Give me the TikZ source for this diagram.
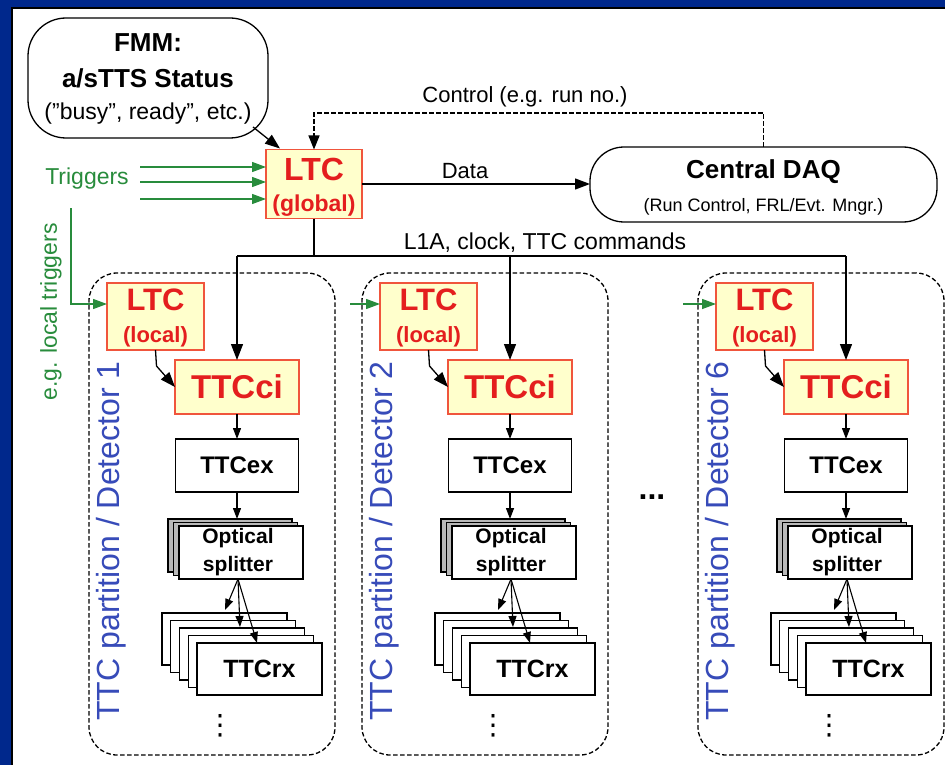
\documentclass[tikz,border=0pt]{standalone}
\usepackage{fontspec}
\setmainfont{Liberation Sans}
\newfontfamily\dejavu{DejaVu Sans}
\usetikzlibrary{arrows.meta,calc}
\definecolor{frameblue}{RGB}{0,40,140}
\definecolor{boxyellow}{RGB}{255,255,204}
\definecolor{boxred}{RGB}{240,85,60}
\definecolor{txtred}{RGB}{228,30,30}
\definecolor{trgreen}{RGB}{40,140,60}
\definecolor{partblue}{RGB}{55,75,185}
\newcommand{\myfs}[1]{\fontsize{#1}{#1}\selectfont}
\begin{document}
\begin{tikzpicture}[x=1pt,y=-1pt,
  every node/.style={inner sep=0pt, outer sep=0pt, align=center},
  ln/.style={line width=1.3pt, draw=black},
  arr/.style={ln, -{Triangle[length=15pt,width=11pt]}},
  sarr/.style={ln, -{Triangle[length=11pt,width=8pt]}},
  garr/.style={line width=1.3pt, draw=trgreen, -{Triangle[length=14pt,width=10pt]}},
  redbox/.style={draw=boxred, fill=boxyellow, line width=1.2pt, text=txtred},
  redtxt/.style={text=txtred, font=\bfseries},
  wbox/.style={draw=black, fill=white, line width=1.3pt},
  layer/.style={draw=black, line width=1.2pt},
  dsh/.style={line width=1.3pt, dash pattern=on 4.5pt off 2.5pt},
  part/.style={draw=black, dsh, rounded corners=28pt, minimum width=246pt, minimum height=482pt},
  ptxt/.style={text=partblue, font=\myfs{32}},
  lbl/.style={font=\myfs{22}}
]
\useasboundingbox (0,0) rectangle (945,765);
\fill[frameblue] (0,0) rectangle (945,765);
\fill[white] (13,9) rectangle (945,765);
\draw[line width=2pt] (12,765) -- (12,8) -- (945,8);

% FMM
\node[draw=black, line width=1.3pt, fill=white, rounded corners=38pt, minimum width=240pt, minimum height=120pt] (fmm) at (148,78) {};
\node[font=\bfseries\myfs{26}] (fmmA) at (148,43) {FMM:};
\node[font=\bfseries\myfs{26}] (fmmB) at (148,78) {a/sTTS Status};
\node[font=\myfs{23}] (fmmC) at (148,114) {("busy", ready", etc.)};

% LTC global
\node[redbox, minimum width=96pt, minimum height=69pt] (ltcg) at (314,184) {};
\node[redtxt, font=\bfseries\myfs{32}] (ltcgA) at (314,169) {LTC};
\node[redtxt, font=\bfseries\myfs{23}] (ltcgB) at (314,206) {(global)};

% Central DAQ
\node[draw=black, line width=1.3pt, fill=white, rounded corners=34pt, minimum width=347pt, minimum height=75pt] (daq) at (763.5,184.5) {};
\node[font=\bfseries\myfs{26}] (daqA) at (763.5,172) {Central DAQ};
\node[font=\myfs{18}] (daqB) at (763.5,207) {(Run Control, FRL/Evt. Mngr.)};

% top connectors
\draw[arr] ($(fmm.south east)+(-15,-11)$) -- ($(ltcg.north west)+(14,-1)$);
\draw[ln, dsh, -{Triangle[length=14pt,width=11pt]}] (daq.north) -- ++(0,-34) -| (ltcg.north);
\node[lbl] (ctrl) at (525,97) {Control (e.g. run no.)};
\draw[arr] (ltcg.east) -- (ltcg.east -| daq.west);
\node[lbl] (data) at (465,171) {Data};

% triggers
\node[font=\myfs{23}, text=trgreen] (trig) at (87,179) {Triggers};
\coordinate (tr1) at (140,167);
\coordinate (tr2) at (140,182);
\coordinate (tr3) at (140,199);
\draw[garr] (tr1) -- (tr1 -| ltcg.west);
\draw[garr] (tr2) -- (tr2 -| ltcg.west);
\draw[garr] (tr3) -- (tr3 -| ltcg.west);
\node[font=\myfs{23}, text=trgreen, rotate=90] (loctrig) at (51,312) {e.g. local triggers};

% bus
\coordinate (bus) at (314,256);
\draw[ln] (ltcg.south) -- (bus);
\node[font=\myfs{23}] (l1a) at (545,243) {L1A, clock, TTC commands};

\foreach \o/\n in {0/1,273/2,609/6}{
  \node[part] (part\n) at (212+\o,514) {};
  \node[redbox, minimum width=97pt, minimum height=67pt] (ltcl\n) at (155.5+\o,316.5) {};
  \node[redtxt, font=\bfseries\myfs{31}] (ltclA\n) at (155.5+\o,300) {LTC};
  \node[redtxt, font=\bfseries\myfs{22}] (ltclB\n) at (155.5+\o,337) {(local)};
  \node[redbox, minimum width=124pt, minimum height=54pt, font=\bfseries\myfs{33}] (ttcci\n) at (237+\o,387) {TTCci};
  \node[wbox, minimum width=123pt, minimum height=53pt, font=\bfseries\myfs{24}] (ttcex\n) at (237+\o,465.5) {TTCex};
  \foreach \k in {2,1}{
    \filldraw[layer, fill=gray!55] (179+\o-5.5*\k,526-3.5*\k) rectangle ++(124,53);
  }
  \node[wbox, minimum width=124pt, minimum height=53pt] (osp\n) at (241+\o,552.5) {};
  \node[font=\bfseries\myfs{21}] (ospA\n) at (238+\o,538) {Optical};
  \node[font=\bfseries\myfs{21}] (ospB\n) at (238+\o,566) {splitter};
  \foreach \k in {4,3,2,1}{
    \filldraw[layer, fill=white] (197+\o-8.75*\k,643-7.5*\k) rectangle ++(125,52);
  }
  \node[wbox, minimum width=125pt, minimum height=52pt, font=\bfseries\myfs{25}] (ttcrx\n) at (259.5+\o,669) {TTCrx};
  \node[font=\myfs{28}] (vd\n) at (220+\o,726) {\dejavu ⋮};
  \node[ptxt, rotate=90] (plab\n) at (111+\o,541) {TTC partition / Detector \n};
  % connectors
  \draw[ln, -{Triangle[length=16pt,width=12pt]}] (ttcci\n.north |- bus) -- (ttcci\n.north);
  \draw[arr] (ltcl\n.south) -- ++(1,16) -- (ttcci\n.west);
  \draw[sarr] (ttcci\n.south) -- (ttcex\n.north);
  \coordinate (osptop\n) at (237+\o,519);
  \draw[sarr] (ttcex\n.south) -- (osptop\n);
  \coordinate (fan\n) at (238+\o,579);
  \coordinate (fa\n) at (225+\o,610);
  \coordinate (fb\n) at (240+\o,627);
  \coordinate (fc\n) at (257+\o,643);
  \draw[sarr, line width=1.1pt] (fan\n) -- (fa\n);
  \draw[sarr, line width=1.1pt] (fan\n) -- (fb\n);
  \draw[sarr, line width=1.1pt] (fan\n) -- (fc\n);
}
\draw[ln] (ttcci1.north |- bus) -- (ttcci6.north |- bus);

% green local trigger connectors
\coordinate (gtop) at (71,208);
\draw[garr] (gtop) |- ($(ltcl1.west)+(0,-12.5)$);
\coordinate (gs2) at ($(ltcl2.west)+(-30,-12.5)$);
\coordinate (gs6) at ($(ltcl6.west)+(-33,-12.5)$);
\draw[garr] (gs2) -- (gs2 -| ltcl2.west);
\draw[garr] (gs6) -- (gs6 -| ltcl6.west);

% ellipsis between partitions
\node[font=\bfseries\myfs{32}] (dots) at (652,497) {...};
\end{tikzpicture}
\end{document}
